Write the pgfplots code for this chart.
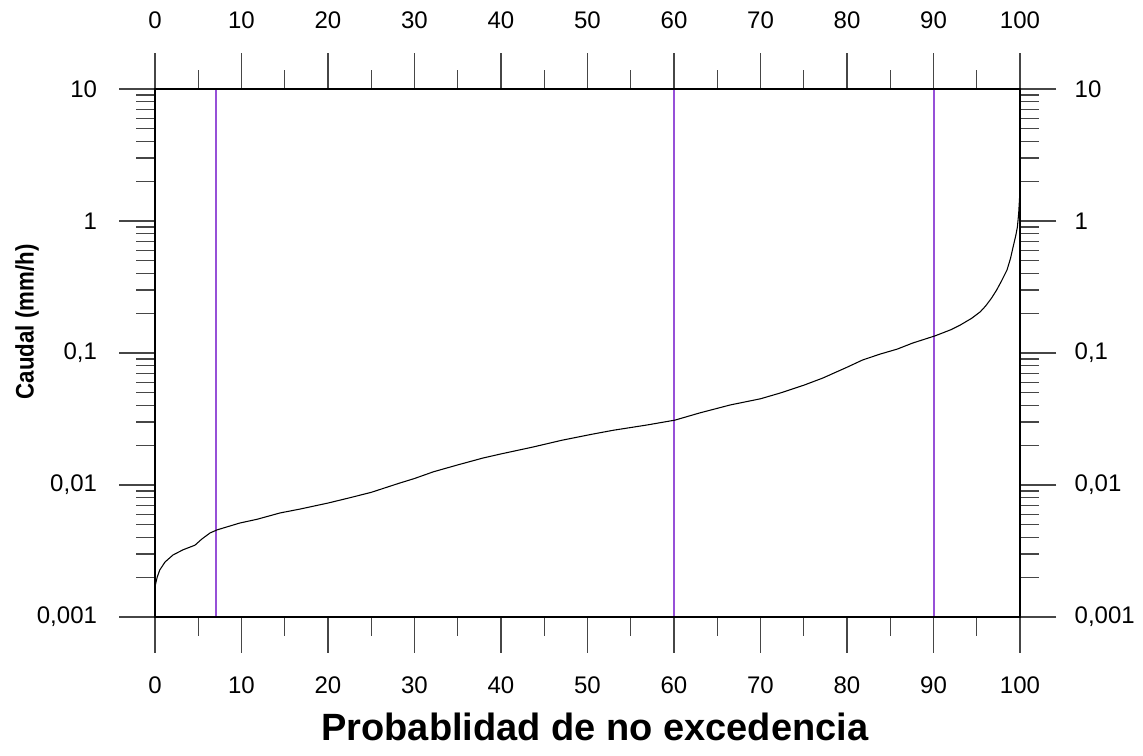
\documentclass[border=0pt]{standalone}
\usepackage{pgfplots}
\pgfplotsset{compat=1.18}
\usepackage{fontspec}
\setmainfont{Liberation Sans}

\definecolor{refline}{RGB}{150,80,215}
\definecolor{tickgray}{RGB}{70,70,70}

% Flow duration curve: non-exceedance probability (%) vs. discharge (mm/h)
\pgfplotstableread{
p      q
0      0.0017
0.25   0.0020
0.55   0.00227
1.16   0.00261
2.08   0.00295
3.24   0.00323
4.62   0.0035
5.4    0.00389
6.36   0.00433
7.17   0.00457
9.8    0.00515
11.8   0.0055
14.45  0.00614
16.8   0.00658
20     0.0073
22.5   0.0080
25     0.0088
28.3   0.01035
30     0.0112
32.2   0.0126
35     0.0142
37.9   0.0160
40     0.0172
43.7   0.0194
47     0.0218
50.6   0.0243
53     0.0260
56.9   0.0285
60.1   0.0310
63     0.0352
66.5   0.0404
70     0.0450
72.3   0.0498
75     0.0570
77.2   0.0646
80     0.0780
81.8   0.0885
83.8   0.0980
85.8   0.1070
87.6   0.1190
90.2   0.1350
92     0.1500
93.1   0.1630
94.4   0.1830
95.4   0.2050
96     0.2260
96.7   0.2600
97.3   0.3000
97.9   0.3550
98.5   0.4260
98.9   0.5200
99.2   0.6350
99.5   0.7700
99.7   0.9000
99.85  1.1500
99.95  1.5000
100    1.9400
}\fdc

\begin{document}
\begin{tikzpicture}
\path[use as bounding box] (-116.25pt,-104.25pt) rectangle (741pt,462.75pt);

\begin{axis}[
  scale only axis,
  width=648.75pt, height=396pt,
  at={(0,0)}, anchor=south west,
  xmin=0, xmax=100,
  ymode=log, ymin=0.001, ymax=10,
  xtick={0,10,...,100},
  minor xtick={5,15,...,95},
  ytick={0.001,0.01,0.1,1,10},
  yticklabels={{0,001},{0,01},{0,1},1,10},
  tick align=outside,
  major tick length=27pt,
  minor tick length=14pt,
  tick style={tickgray, line width=1pt},
  axis line style={black, line width=1.1pt},
  /pgf/number format/assume math mode=true,
  ticklabel style={font=\fontsize{18}{18}\selectfont},
  xticklabel pos=bottom,
  yticklabel pos=left,
  xticklabel style={yshift=-14pt},
  yticklabel style={xshift=-13pt},
  xlabel={\textbf{Probablidad de no excedencia}},
  xlabel style={font=\fontsize{28.5}{30}\selectfont, at={(axis description cs:0.5087,-0.2083)}, anchor=center},
  ylabel={\scalebox{0.88}[1]{\textbf{Caudal (mm/h)}}},
  ylabel style={font=\fontsize{19}{20}\selectfont, at={(axis description cs:-0.148,0.559)}, anchor=center},
  clip=false,
]
  % reference probabilities: 7 %, 60 %, 90 %
  \addplot[refline, line width=1.5pt, forget plot] coordinates {(7,0.001) (7,10)};
  \addplot[refline, line width=1.5pt, forget plot] coordinates {(60,0.001) (60,10)};
  \addplot[refline, line width=1.5pt, forget plot] coordinates {(90,0.001) (90,10)};
  \addplot[black, line width=0.8pt] table[x=p, y=q] {\fdc};
\end{axis}

\begin{axis}[
  scale only axis,
  width=648.75pt, height=396pt,
  at={(0,0)}, anchor=south west,
  xmin=0, xmax=100,
  ymode=log, ymin=0.001, ymax=10,
  xtick={0,10,...,100},
  minor xtick={5,15,...,95},
  ytick={0.001,0.01,0.1,1,10},
  yticklabels={{0,001},{0,01},{0,1},1,10},
  tick align=outside,
  major tick length=27pt,
  minor tick length=14pt,
  tick style={tickgray, line width=1pt},
  axis line style={black, line width=1.1pt},
  /pgf/number format/assume math mode=true,
  ticklabel style={font=\fontsize{18}{18}\selectfont},
  xticklabel pos=top,
  yticklabel pos=right,
  xticklabel style={yshift=15pt},
  yticklabel style={xshift=10.5pt},
]
\end{axis}
\end{tikzpicture}
\end{document}
